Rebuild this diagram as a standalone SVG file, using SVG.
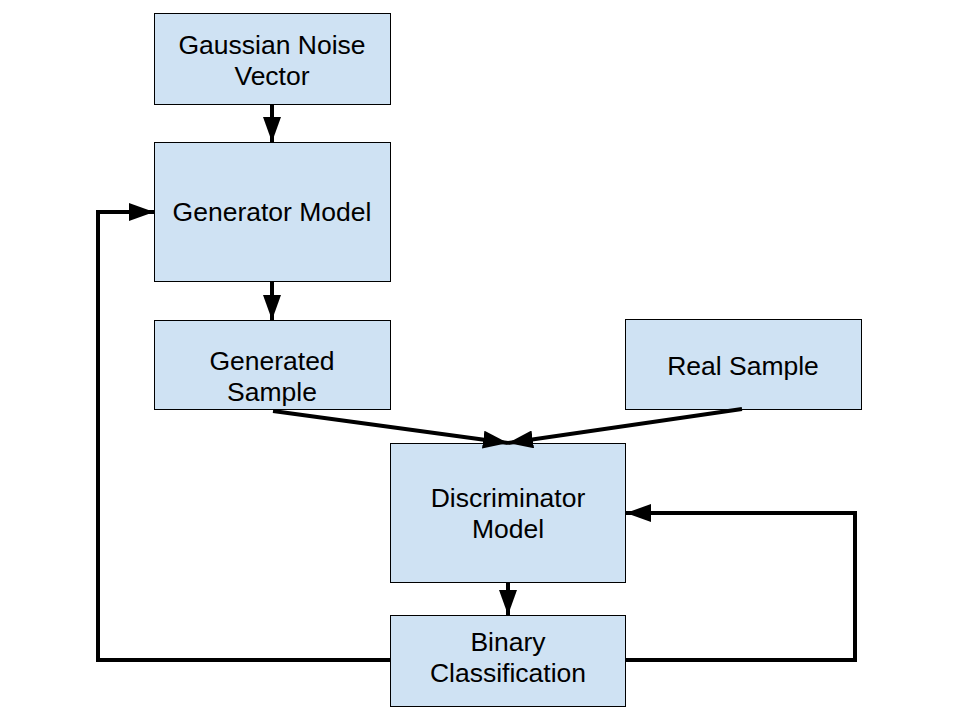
<svg xmlns="http://www.w3.org/2000/svg" width="960" height="720" viewBox="0 0 960 720">
<style>
.box{fill:#cfe2f3;stroke:#000;stroke-width:1}
.t{font-family:"Liberation Sans",Arial,sans-serif;font-size:26.5px;fill:#000;text-anchor:middle}
.c{fill:none;stroke:#000;stroke-width:4}
</style>
<defs>
<marker id="ah" markerUnits="userSpaceOnUse" markerWidth="26" markerHeight="18" refX="25" refY="9" orient="auto">
<path d="M0,0 L25,9 L0,18 z" fill="#000"/>
</marker>
</defs>
<rect width="960" height="720" fill="#fff"/>
<g id="noise"><rect class="box" x="154.5" y="13.5" width="236" height="91"/>
<text class="t" x="272" y="54">Gaussian Noise</text><text class="t" x="272" y="85">Vector</text></g>
<g id="generator"><rect class="box" x="154.5" y="142.5" width="236" height="139"/>
<text class="t" x="272" y="221">Generator Model</text></g>
<g id="generated"><rect class="box" x="154.5" y="320.5" width="236" height="89"/>
<text class="t" x="272" y="370">Generated</text><text class="t" x="272" y="401">Sample</text></g>
<g id="real"><rect class="box" x="625.5" y="319.5" width="236" height="90"/>
<text class="t" x="743" y="375">Real Sample</text></g>
<g id="discriminator"><rect class="box" x="390.5" y="443.5" width="235" height="139"/>
<text class="t" x="508" y="507">Discriminator</text><text class="t" x="508" y="538">Model</text></g>
<g id="binary"><rect class="box" x="390.5" y="615.5" width="235" height="91"/>
<text class="t" x="508" y="651">Binary</text><text class="t" x="508" y="682">Classification</text></g>
<g id="connectors">
<line class="c" x1="272" y1="104" x2="272" y2="142" marker-end="url(#ah)"/>
<line class="c" x1="272" y1="281" x2="272" y2="320" marker-end="url(#ah)"/>
<line class="c" x1="273" y1="411" x2="508" y2="443" marker-end="url(#ah)"/>
<line class="c" x1="742" y1="409" x2="508" y2="443" marker-end="url(#ah)"/>
<line class="c" x1="508" y1="582" x2="508" y2="615" marker-end="url(#ah)"/>
<polyline class="c" points="390,660 98,660 98,212 154,212" marker-end="url(#ah)"/>
<polyline class="c" points="625,660 855,660 855,513 626,513" marker-end="url(#ah)"/>
</g>
</svg>
